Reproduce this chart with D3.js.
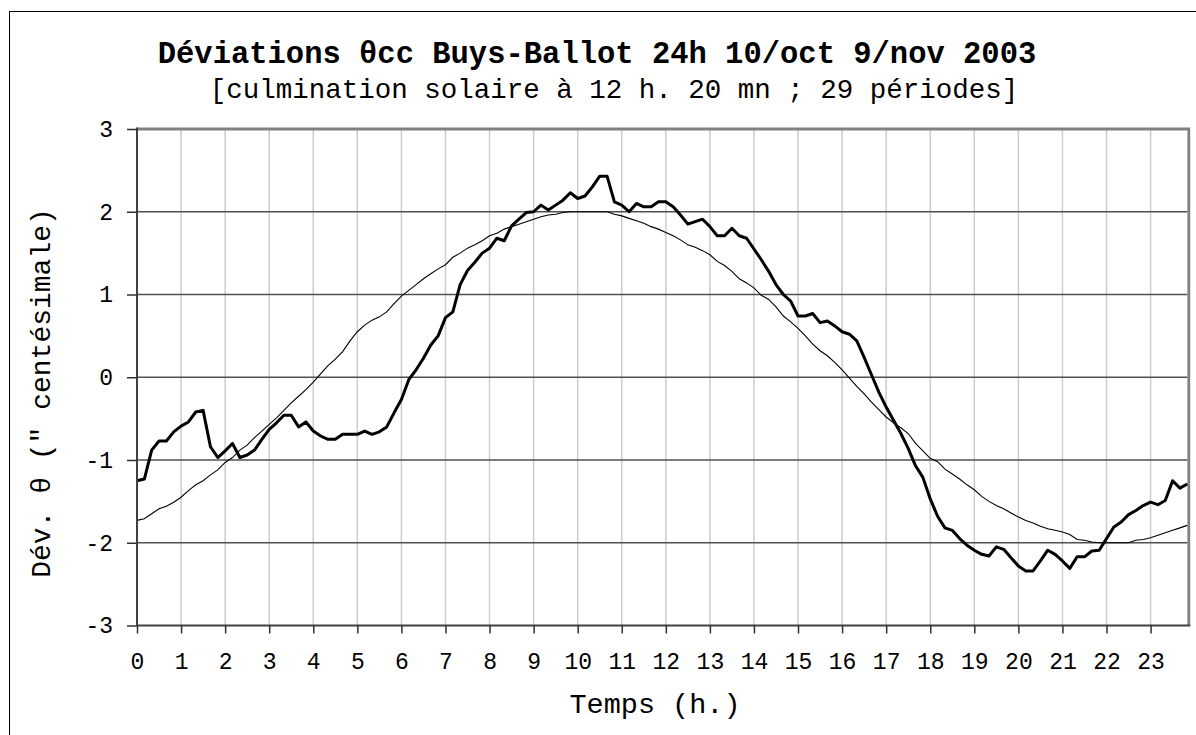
<!DOCTYPE html>
<html>
<head>
<meta charset="utf-8">
<script src="https://cdn.jsdelivr.net/npm/d3@7"></script>
<style>
  body { margin: 0; background: #fff; }
  svg { display: block; }
</style>
</head>
<body>
<script>
// Déviations θcc Buys-Ballot 24h, 10/oct - 9/nov 2003
// one point every 10 minutes, 0h00 .. 23h50

var hourLabels = ["0","1","2","3","4","5","6","7","8","9","10","11",
                  "12","13","14","15","16","17","18","19","20","21","22","23"];
var yTicks = [-3, -2, -1, 0, 1, 2, 3];
var stepMinutes = 10;

// courbe épaisse : moyenne Buys-Ballot
var measured = [
  -1.25,-1.23,-0.88,-0.77,-0.77,-0.66,-0.59,-0.54,-0.42,-0.40,-0.84,-0.97,
  -0.89,-0.80,-0.97,-0.94,-0.88,-0.75,-0.63,-0.55,-0.46,-0.46,-0.60,-0.54,
  -0.65,-0.71,-0.75,-0.75,-0.69,-0.69,-0.69,-0.65,-0.69,-0.66,-0.60,-0.43,
  -0.27,-0.03, 0.09, 0.23, 0.39, 0.50, 0.72, 0.79, 1.12, 1.29, 1.39, 1.50,
   1.56, 1.68, 1.65, 1.83, 1.91, 1.99, 2.00, 2.08, 2.02, 2.08, 2.14, 2.23,
   2.16, 2.19, 2.30, 2.43, 2.43, 2.12, 2.08, 2.00, 2.10, 2.06, 2.06, 2.12,
   2.12, 2.06, 1.96, 1.85, 1.88, 1.91, 1.82, 1.71, 1.71, 1.80, 1.71, 1.68,
   1.55, 1.42, 1.28, 1.12, 1.00, 0.92, 0.74, 0.74, 0.77, 0.66, 0.68, 0.62,
   0.55, 0.52, 0.44, 0.24, 0.03,-0.18,-0.36,-0.52,-0.68,-0.86,-1.07,-1.21,
  -1.47,-1.68,-1.82,-1.85,-1.95,-2.03,-2.09,-2.14,-2.16,-2.05,-2.08,-2.18,
  -2.28,-2.34,-2.34,-2.22,-2.09,-2.14,-2.22,-2.31,-2.17,-2.17,-2.10,-2.09,
  -1.95,-1.81,-1.75,-1.66,-1.61,-1.55,-1.51,-1.54,-1.49,-1.25,-1.34,-1.29
];

// courbe fine : ajustement
var fitted = [
  -1.73,-1.71,-1.65,-1.59,-1.56,-1.51,-1.45,-1.37,-1.30,-1.25,-1.18,-1.12,
  -1.03,-0.97,-0.88,-0.82,-0.73,-0.65,-0.57,-0.49,-0.40,-0.31,-0.23,-0.15,
  -0.06, 0.04, 0.14, 0.22, 0.31, 0.44, 0.55, 0.63, 0.69, 0.73, 0.79, 0.89,
   0.98, 1.05, 1.12, 1.19, 1.25, 1.31, 1.36, 1.45, 1.50, 1.56, 1.60, 1.65,
   1.71, 1.74, 1.79, 1.82, 1.85, 1.88, 1.91, 1.94, 1.96, 1.97, 1.99, 2.00,
   2.00, 2.00, 2.00, 2.00, 2.00, 1.97, 1.95, 1.92, 1.89, 1.86, 1.82, 1.79,
   1.75, 1.71, 1.66, 1.60, 1.57, 1.53, 1.48, 1.40, 1.35, 1.28, 1.19, 1.14,
   1.08, 0.99, 0.94, 0.85, 0.74, 0.67, 0.59, 0.50, 0.40, 0.32, 0.26, 0.18,
   0.09,-0.01,-0.11,-0.20,-0.30,-0.39,-0.48,-0.55,-0.61,-0.68,-0.80,-0.89,
  -0.98,-1.02,-1.11,-1.17,-1.23,-1.30,-1.36,-1.44,-1.50,-1.55,-1.59,-1.64,
  -1.69,-1.73,-1.76,-1.80,-1.83,-1.85,-1.87,-1.90,-1.96,-1.97,-1.99,-2.00,
  -2.00,-2.00,-2.00,-2.00,-1.97,-1.96,-1.94,-1.91,-1.88,-1.85,-1.82,-1.79
];

var width = 1196;
var height = 735;
var font = "'Liberation Mono', 'Courier New', monospace";

var plotLeft = 137, plotRight = 1187.3, plotTop = 129, plotBottom = 625.5;

var svg = d3.select("body").append("svg")
    .attr("width", width)
    .attr("height", height);

svg.append("rect")
    .attr("x", 0).attr("y", 0)
    .attr("width", width).attr("height", height)
    .attr("fill", "#ffffff");

// cadre du graphique
svg.append("rect")
    .attr("x", 9.5).attr("y", 11.5)
    .attr("width", 1200).attr("height", 740)
    .attr("fill", "none")
    .attr("stroke", "#000")
    .attr("stroke-width", 1);

var lastHour = (measured.length - 1) * stepMinutes / 60;
var x = d3.scaleLinear().domain([0, lastHour]).range([plotLeft, plotRight]);
var y = d3.scaleLinear().domain([-3, 3]).range([plotBottom, plotTop]);

var hourOf = function(d, i) { return i * stepMinutes / 60; };

// quadrillage vertical
svg.append("g").selectAll("line")
    .data(hourLabels.slice(1))
    .enter().append("line")
    .attr("x1", function(d) { return x(+d); })
    .attr("x2", function(d) { return x(+d); })
    .attr("y1", plotTop).attr("y2", plotBottom)
    .attr("stroke", "#cccccc")
    .attr("stroke-width", 1.5);

// quadrillage horizontal
svg.append("g").selectAll("line")
    .data(yTicks.filter(function(d) { return d > -3 && d < 3; }))
    .enter().append("line")
    .attr("x1", plotLeft).attr("x2", plotRight)
    .attr("y1", function(d) { return y(d); })
    .attr("y2", function(d) { return y(d); })
    .attr("stroke", "#505050")
    .attr("stroke-width", 1.5);

// bord haut et droit de la zone de tracé
svg.append("path")
    .attr("d", "M" + plotLeft + "," + plotTop + "H" + (plotRight + 1.5) + "V" + plotBottom)
    .attr("fill", "none")
    .attr("stroke", "#808080")
    .attr("stroke-width", 2.8);

var line = d3.line()
    .x(function(d, i) { return x(hourOf(d, i)); })
    .y(function(d) { return y(d); });

svg.append("path")
    .datum(fitted)
    .attr("d", line)
    .attr("fill", "none")
    .attr("stroke", "#000")
    .attr("stroke-width", 1.1);

svg.append("path")
    .datum(measured)
    .attr("d", line)
    .attr("fill", "none")
    .attr("stroke", "#000")
    .attr("stroke-width", 3)
    .attr("stroke-linejoin", "round");

// axes
var xAxis = svg.append("g")
    .attr("transform", "translate(0," + plotBottom + ")")
    .call(d3.axisBottom(x)
        .tickValues(hourLabels.map(Number))
        .tickSize(8)
        .tickPadding(19)
        .tickSizeOuter(0)
        .tickFormat(function(d) { return String(d); }));

var yAxis = svg.append("g")
    .attr("transform", "translate(" + plotLeft + ",0)")
    .call(d3.axisLeft(y)
        .tickValues(yTicks)
        .tickSize(10)
        .tickPadding(14)
        .tickSizeOuter(0)
        .tickFormat(function(d) { return String(d); }));

[xAxis, yAxis].forEach(function(g) {
  g.select(".domain").attr("stroke", "#404040").attr("stroke-width", 2);
  g.selectAll(".tick line").attr("stroke", "#303030").attr("stroke-width", 1.5);
  g.selectAll(".tick text")
      .attr("fill", "#000")
      .style("font-family", font)
      .style("font-size", "23px");
});
xAxis.select(".domain").attr("d", "M" + plotLeft + ",0H" + (plotRight + 3));
yAxis.select(".domain").attr("d", "M0," + (plotTop - 1.5) + "V" + plotBottom);

// titres
svg.append("text")
    .attr("x", 597)
    .attr("y", 63)
    .attr("text-anchor", "middle")
    .style("font-family", font)
    .style("font-size", "30.5px")
    .style("font-weight", "bold")
    .text("Déviations θcc Buys-Ballot 24h 10/oct 9/nov 2003");

svg.append("text")
    .attr("x", 614)
    .attr("y", 98)
    .attr("text-anchor", "middle")
    .style("font-family", font)
    .style("font-size", "27.5px")
    .text("[culmination solaire à 12 h. 20 mn ; 29 périodes]");

svg.append("text")
    .attr("x", 655)
    .attr("y", 713)
    .attr("text-anchor", "middle")
    .style("font-family", font)
    .style("font-size", "28.5px")
    .text("Temps (h.)");

svg.append("text")
    .attr("transform", "translate(50,393) rotate(-90)")
    .attr("text-anchor", "middle")
    .style("font-family", font)
    .style("font-size", "28px")
    .text("Dév. θ (\" centésimale)");
</script>
</body>
</html>
